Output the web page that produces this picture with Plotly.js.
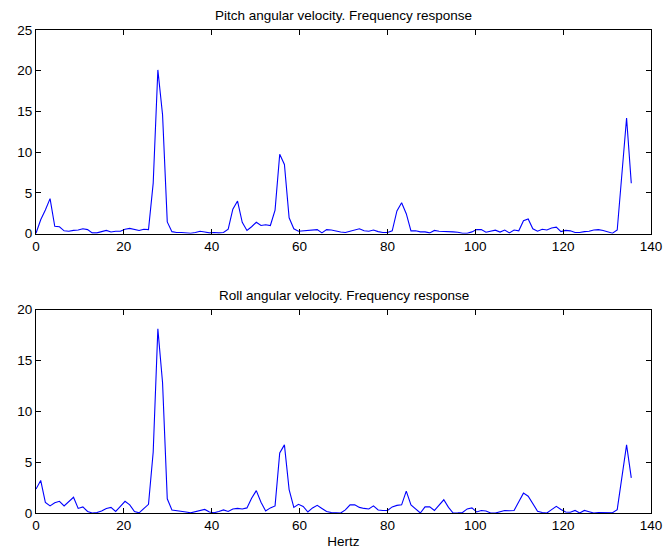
<!DOCTYPE html>
<html>
<head>
<meta charset="utf-8">
<script src="https://cdn.plot.ly/plotly-3.0.1.min.js"></script>
<style>
html,body{margin:0;padding:0;background:#fff;}
#chart{width:664px;height:551px;}
</style>
</head>
<body>
<div id="chart"></div>
<script>
// Frequency bins (Hz)
const freqHz = [
  0.00, 1.07, 2.13, 3.20, 4.27, 5.34, 6.40, 7.47, 8.54, 9.60,
  10.67, 11.74, 12.80, 13.87, 14.94, 16.01, 17.07, 18.14, 19.21, 20.27,
  21.34, 22.41, 23.47, 24.54, 25.61, 26.68, 27.74, 28.81, 29.88, 30.94,
  32.01, 33.08, 34.14, 35.21, 36.28, 37.35, 38.41, 39.48, 40.55, 41.61,
  42.68, 43.75, 44.81, 45.88, 46.95, 48.02, 49.08, 50.15, 51.22, 52.28,
  53.35, 54.42, 55.48, 56.55, 57.62, 58.69, 59.75, 60.82, 61.89, 62.95,
  64.02, 65.09, 66.15, 67.22, 68.29, 69.36, 70.42, 71.49, 72.56, 73.62,
  74.69, 75.76, 76.82, 77.89, 78.96, 80.03, 81.09, 82.16, 83.23, 84.29,
  85.36, 86.43, 87.49, 88.56, 89.63, 90.70, 91.76, 92.83, 93.90, 94.96,
  96.03, 97.10, 98.16, 99.23, 100.30, 101.37, 102.43, 103.50, 104.57, 105.63,
  106.70, 107.77, 108.83, 109.90, 110.97, 112.04, 113.10, 114.17, 115.24, 116.30,
  117.37, 118.44, 119.50, 120.57, 121.64, 122.71, 123.77, 124.84, 125.91, 126.97,
  128.04, 129.11, 130.17, 131.24, 132.31, 133.38, 134.44, 135.51
];

// Pitch angular velocity magnitude
const pitchMag = [
  0.05, 1.7, 2.9, 4.3, 0.9, 0.85, 0.35, 0.3, 0.4, 0.45,
  0.6, 0.5, 0.1, 0.1, 0.25, 0.4, 0.2, 0.3, 0.3, 0.55,
  0.65, 0.5, 0.4, 0.55, 0.5, 6.2, 20.1, 14.6, 1.45, 0.25,
  0.15, 0.15, 0.1, 0.05, 0.15, 0.3, 0.2, 0.1, 0.15, 0.1,
  0.15, 0.55, 3.0, 4.0, 1.4, 0.4, 0.85, 1.4, 1.0, 1.1,
  1.0, 2.9, 9.75, 8.5, 1.95, 0.6, 0.3, 0.35, 0.45, 0.5,
  0.5, 0.1, 0.5, 0.45, 0.3, 0.2, 0.15, 0.3, 0.45, 0.6,
  0.35, 0.3, 0.45, 0.25, 0.15, 0.15, 0.35, 2.8, 3.8, 2.45,
  0.35, 0.35, 0.22, 0.22, 0.1, 0.4, 0.3, 0.3, 0.3, 0.22,
  0.18, 0.06, 0.06, 0.22, 0.5, 0.5, 0.18, 0.3, 0.43, 0.2,
  0.45, 0.1, 0.45, 0.35, 1.6, 1.8, 0.6, 0.3, 0.55, 0.45,
  0.7, 0.8, 0.25, 0.4, 0.35, 0.15, 0.15, 0.25, 0.3, 0.45,
  0.5, 0.4, 0.25, 0.05, 0.45, 7.3, 14.2, 6.2
];

// Roll angular velocity magnitude
const rollMag = [
  2.35, 3.2, 1.05, 0.7, 1.0, 1.15, 0.7, 1.1, 1.55, 0.45,
  0.6, 0.15, 0.0, 0.05, 0.2, 0.45, 0.55, 0.15, 0.7, 1.15,
  0.8, 0.15, 0.02, 0.4, 0.85, 6.0, 18.1, 12.8, 1.4, 0.3,
  0.25, 0.2, 0.1, 0.02, 0.12, 0.28, 0.35, 0.1, 0.03, 0.15,
  0.3, 0.15, 0.4, 0.45, 0.4, 0.5, 1.45, 2.2, 1.05, 0.2,
  0.5, 0.7, 5.9, 6.7, 2.3, 0.55, 0.85, 0.65, 0.1, 0.5,
  0.75, 0.45, 0.15, 0.05, 0.0, 0.0, 0.3, 0.8, 0.8, 0.55,
  0.45, 0.4, 0.7, 0.3, 0.25, 0.25, 0.6, 0.75, 0.8, 2.15,
  0.8, 0.35, 0.0, 0.6, 0.6, 0.25, 0.8, 1.3, 0.55, 0.0,
  0.02, 0.05, 0.4, 0.5, 0.1, 0.25, 0.2, 0.0, 0.0, 0.1,
  0.25, 0.22, 0.25, 1.1, 1.95, 1.65, 0.9, 0.18, 0.05, 0.0,
  0.33, 0.65, 0.35, 0.1, 0.08, 0.25, 0.0, 0.25, 0.12, 0.0,
  0.05, 0.05, 0.1, 0.03, 0.33, 3.5, 6.7, 3.45
];

const pitchTitle = 'Pitch angular velocity. Frequency response';
const rollTitle = 'Roll angular velocity. Frequency response';
const xLabel = 'Hertz';
const xTicks = [0, 20, 40, 60, 80, 100, 120, 140];
const pitchYTicks = [0, 5, 10, 15, 20, 25];
const rollYTicks = [0, 5, 10, 15, 20];

const FONT = 'Liberation Sans, Arial, Helvetica, sans-serif';
const FS = 13.5;
const lineStyle = {color: '#0000ff', width: 1.1};

const traces = [
  {x: freqHz, y: pitchMag, type: 'scatter', mode: 'lines', line: lineStyle, xaxis: 'x', yaxis: 'y', hoverinfo: 'x+y'},
  {x: freqHz, y: rollMag, type: 'scatter', mode: 'lines', line: lineStyle, xaxis: 'x2', yaxis: 'y2', hoverinfo: 'x+y'}
];

function xAx(anchor) {
  return {
    domain: [0, 1], anchor: anchor, range: [0, 140],
    tickmode: 'array', tickvals: xTicks, ticktext: xTicks.map(String),
    ticks: 'inside', ticklen: 5, tickwidth: 1, tickcolor: '#000',
    showline: true, linecolor: '#000', linewidth: 1, mirror: 'ticks',
    showgrid: false, zeroline: false,
    tickfont: {family: FONT, size: FS, color: '#000'}
  };
}
function yAx(anchor, domain, range, ticks) {
  return {
    domain: domain, anchor: anchor, range: range,
    tickmode: 'array', tickvals: ticks, ticktext: ticks.map(String),
    ticks: 'inside', ticklen: 5, tickwidth: 1, tickcolor: '#000',
    showline: true, linecolor: '#000', linewidth: 1, mirror: 'ticks',
    showgrid: false, zeroline: false,
    tickfont: {family: FONT, size: FS, color: '#000'}
  };
}

const xaxis2 = xAx('y2');
xaxis2.title = {text: xLabel, font: {family: FONT, size: FS, color: '#000'}, standoff: 4};

const layout = {
  width: 664, height: 551,
  paper_bgcolor: '#fff', plot_bgcolor: '#fff',
  showlegend: false,
  margin: {l: 36, r: 12.5, t: 29.5, b: 37.7, pad: 0},
  xaxis: xAx('y'),
  yaxis: yAx('x', [0.5783, 1], [0, 25], pitchYTicks),
  xaxis2: xaxis2,
  yaxis2: yAx('x2', [0, 0.4212], [0, 20], rollYTicks),
  annotations: [
    {text: pitchTitle, xref: 'paper', yref: 'paper', x: 0.5, y: 1, xanchor: 'center', yanchor: 'bottom', yshift: 5, showarrow: false, font: {family: FONT, size: FS, color: '#000'}},
    {text: rollTitle, xref: 'paper', yref: 'paper', x: 0.5, y: 0.4212, xanchor: 'center', yanchor: 'bottom', yshift: 5, showarrow: false, font: {family: FONT, size: FS, color: '#000'}}
  ]
};

Plotly.newPlot('chart', traces, layout, {displayModeBar: false, staticPlot: true});
</script>
</body>
</html>
